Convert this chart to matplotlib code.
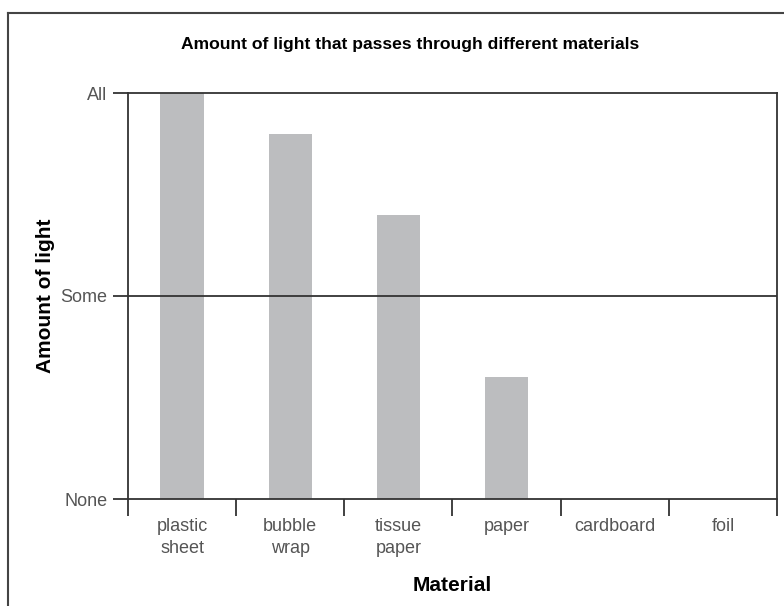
import matplotlib
matplotlib.use("Agg")
import matplotlib.pyplot as plt
from matplotlib.lines import Line2D
import numpy as np

plt.rcParams['font.family'] = ['Liberation Sans', 'DejaVu Sans']

categories = ["plastic\nsheet", "bubble\nwrap", "tissue\npaper", "paper", "cardboard", "foil"]
values = [2.0, 1.8, 1.4, 0.6, 0.0, 0.0]
ytick_labels = ["None", "Some", "All"]

W, H = 784, 606
fig = plt.figure(figsize=(W/100, H/100), dpi=100)
ax = fig.add_axes([128/W, 1-499/H, (777-128)/W, (499-93)/H])

x = np.arange(len(categories))
ax.bar(x, values, width=0.4, color="#bcbdbf", zorder=1)
ax.set_xlim(-0.5, len(categories)-0.5)
ax.set_ylim(0, 2)

ax.axhline(1, color="#333333", lw=1.3, zorder=2)

ax.set_yticks([0, 1, 2])
ax.set_yticklabels(ytick_labels, fontsize=13, color="#555555")
ax.set_xticks(x)
ax.set_xticklabels(categories, fontsize=13, color="#555555", linespacing=1.35)
ax.tick_params(axis='x', which='major', length=0, pad=14)
ax.set_xticks(np.arange(len(categories)+1)-0.5, minor=True)
ax.tick_params(axis='x', which='minor', length=12, width=1.3, color="#333333", direction='out')
ax.tick_params(axis='y', length=11, width=1.3, color="#333333", direction='out', pad=4)

for s in ax.spines.values():
    s.set_color("#333333")
    s.set_linewidth(1.3)

ax.set_xlabel("Material", fontsize=15, fontweight='bold', labelpad=14)
ax.set_ylabel("Amount of light", fontsize=15, fontweight='bold', labelpad=4)

fig.text(410/W, 1-45/H, "Amount of light that passes through different materials",
         ha='center', va='center', fontsize=12.6, fontweight='bold')

# outer frame (partly outside the picture)
fig.add_artist(Line2D([8/W, 8/W], [-0.1, 1-13/H], transform=fig.transFigure, color="#444444", lw=1.5))
fig.add_artist(Line2D([8/W, 1.1], [1-13/H, 1-13/H], transform=fig.transFigure, color="#444444", lw=1.5))

fig.savefig("out.png", dpi=100)
